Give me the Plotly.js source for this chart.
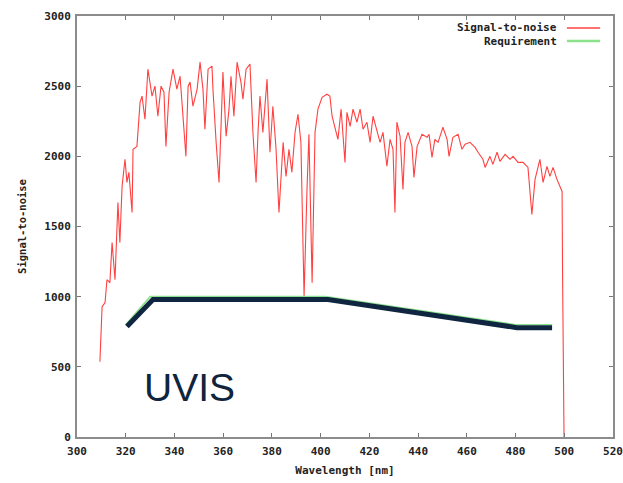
<!DOCTYPE html>
<html>
<head>
<meta charset="utf-8">
<script src="https://cdn.plot.ly/plotly-3.0.1.min.js"></script>
<style>html,body{margin:0;padding:0;background:#fff;}#chart{width:623px;height:483px;}</style>
</head>
<body>
<div id="chart"></div>
<script>
// Signal-to-noise spectrum
const wavelength = [309.4,310.3,311.5,312.3,313.5,314.4,315.6,316.4,316.8,317.6,318.5,319.7,320.5,321.3,322.6,323.0,324.6,325.0,325.9,326.7,327.9,329.1,330.8,332.0,333.2,334.5,335.7,336.5,337.8,339.4,341.0,342.3,343.5,344.7,345.6,346.4,347.6,349.3,350.5,351.7,352.5,353.8,355.4,355.8,357.1,358.3,359.9,361.2,362.4,363.2,364.4,365.7,367.3,368.1,369.4,371.0,372.2,373.5,374.3,375.1,376.3,378.0,379.2,380.4,381.7,382.9,384.6,385.8,387.0,388.2,389.5,390.7,391.9,393.2,394.4,395.2,396.5,397.7,398.9,400.6,402.6,403.8,404.7,405.9,407.1,408.4,410.0,410.8,412.1,413.3,414.9,416.2,417.4,419.0,420.3,421.5,423.1,424.4,425.6,427.2,428.5,429.7,430.5,431.3,432.6,433.8,434.6,435.9,437.5,438.3,439.6,441.6,443.7,444.5,445.7,446.9,448.2,450.2,451.9,452.7,454.3,456.4,458.0,459.3,461.3,463.4,464.6,466.6,467.5,469.5,470.7,472.4,473.6,475.7,477.7,479.0,481.0,483.1,485.1,486.7,488.0,490.0,491.3,492.9,494.1,495.4,497.0,498.2,499.1,499.3,499.6,499.9];
const snr = [536,929,957,1121,1100,1386,1121,1429,1671,1386,1786,1979,1814,1886,1600,2050,2071,2171,2386,2429,2264,2621,2429,2500,2286,2500,2457,2071,2457,2621,2479,2571,2286,2000,2500,2529,2357,2479,2671,2479,2193,2621,2643,2479,2100,1814,2600,2143,2336,2571,2286,2671,2529,2407,2621,2657,2171,1814,2171,2429,2171,2550,2029,2357,2050,1600,2100,1857,2050,1886,2171,2300,2100,1000,1764,2157,1100,2171,2336,2421,2443,2429,2286,2193,2121,2336,1957,2314,2214,2336,2243,2336,2193,2243,2100,2286,2193,2100,2171,1929,2121,2050,1600,2243,2143,1764,2100,2171,2071,1850,2071,2157,2136,2157,1993,2121,2100,2207,2121,2000,2136,2157,2050,2086,2100,2064,2029,1979,1921,2000,1943,2029,1964,2014,1979,2000,1957,1957,1921,1586,1836,1979,1814,1929,1857,1921,1836,1786,1750,1150,500,0];

// Requirement curve
const reqWavelength = [320, 330, 402, 480, 495];
const reqSnr = [800, 1000, 1000, 800, 800];

// Hand-drawn overlay line on the slide
const overlayWavelength = [320.5, 331.2, 403.0, 480.6, 495];
const overlaySnr = [788, 979, 979, 779, 779];

const seriesNames = ['Signal-to-noise', 'Requirement'];
const xTickVals = [300,320,340,360,380,400,420,440,460,480,500,520];
const yTickVals = [0,500,1000,1500,2000,2500,3000];

const mono = 'DejaVu Sans Mono, monospace';
const redCol = 'rgba(255,0,0,0.75)';
const greenCol = 'rgb(140,225,140)';
const txtFont = {family: mono, size: 11, color: '#222', weight: 'bold'};

const traces = [
  {x: wavelength, y: snr, type: 'scatter', mode: 'lines', name: seriesNames[0],
   line: {color: redCol, width: 1.1}, showlegend: false},
  {x: reqWavelength, y: reqSnr, type: 'scatter', mode: 'lines', name: seriesNames[1],
   line: {color: greenCol, width: 1.6}, showlegend: false},
  {x: overlayWavelength, y: overlaySnr, type: 'scatter', mode: 'lines', name: 'overlay',
   line: {color: '#0f2540', width: 5}, showlegend: false}
];

const axisCommon = {
  showgrid: false, zeroline: false, showline: true, linecolor: '#8c8c8c', linewidth: 2,
  mirror: 'allticks', ticks: 'inside', ticklen: 4, tickwidth: 1, tickcolor: '#777',
  tickfont: txtFont
};

const layout = {
  width: 623, height: 483,
  margin: {l: 77, r: 10, t: 16, b: 46},
  paper_bgcolor: '#fff', plot_bgcolor: '#fff',
  xaxis: Object.assign({}, axisCommon, {
    range: [300, 520], tickvals: xTickVals, ticktext: xTickVals.map(String),
    ticklabelstandoff: 3,
    title: {text: 'Wavelength [nm]', font: txtFont, standoff: 9}
  }),
  yaxis: Object.assign({}, axisCommon, {
    range: [0, 3000], tickvals: yTickVals, ticktext: yTickVals.map(String),
    ticklabelstandoff: 2,
    title: {text: 'Signal-to-noise', font: {family: mono, size: 10.5, color: '#222', weight: 'bold'}, standoff: 16}
  }),
  showlegend: false,
  annotations: [
    {xref: 'paper', yref: 'paper', x: 0.899, y: 0.9715, xanchor: 'right', yanchor: 'middle',
     text: seriesNames[0], showarrow: false, font: txtFont},
    {xref: 'paper', yref: 'paper', x: 0.899, y: 0.9406, xanchor: 'right', yanchor: 'middle',
     text: seriesNames[1], showarrow: false, font: txtFont},
    {xref: 'x', yref: 'y', x: 346, y: 350, xanchor: 'center', yanchor: 'middle',
     text: 'UVIS', showarrow: false, font: {family: 'Liberation Sans, Arial, sans-serif', size: 39, color: '#10243e'}}
  ],
  shapes: [
    {type: 'line', xref: 'paper', yref: 'paper', x0: 0.914, x1: 0.976, y0: 0.9715, y1: 0.9715,
     line: {color: redCol, width: 1.5}},
    {type: 'line', xref: 'paper', yref: 'paper', x0: 0.914, x1: 0.976, y0: 0.9406, y1: 0.9406,
     line: {color: greenCol, width: 2.5}}
  ]
};

Plotly.newPlot('chart', traces, layout, {displayModeBar: false, staticPlot: true});
</script>
</body>
</html>
